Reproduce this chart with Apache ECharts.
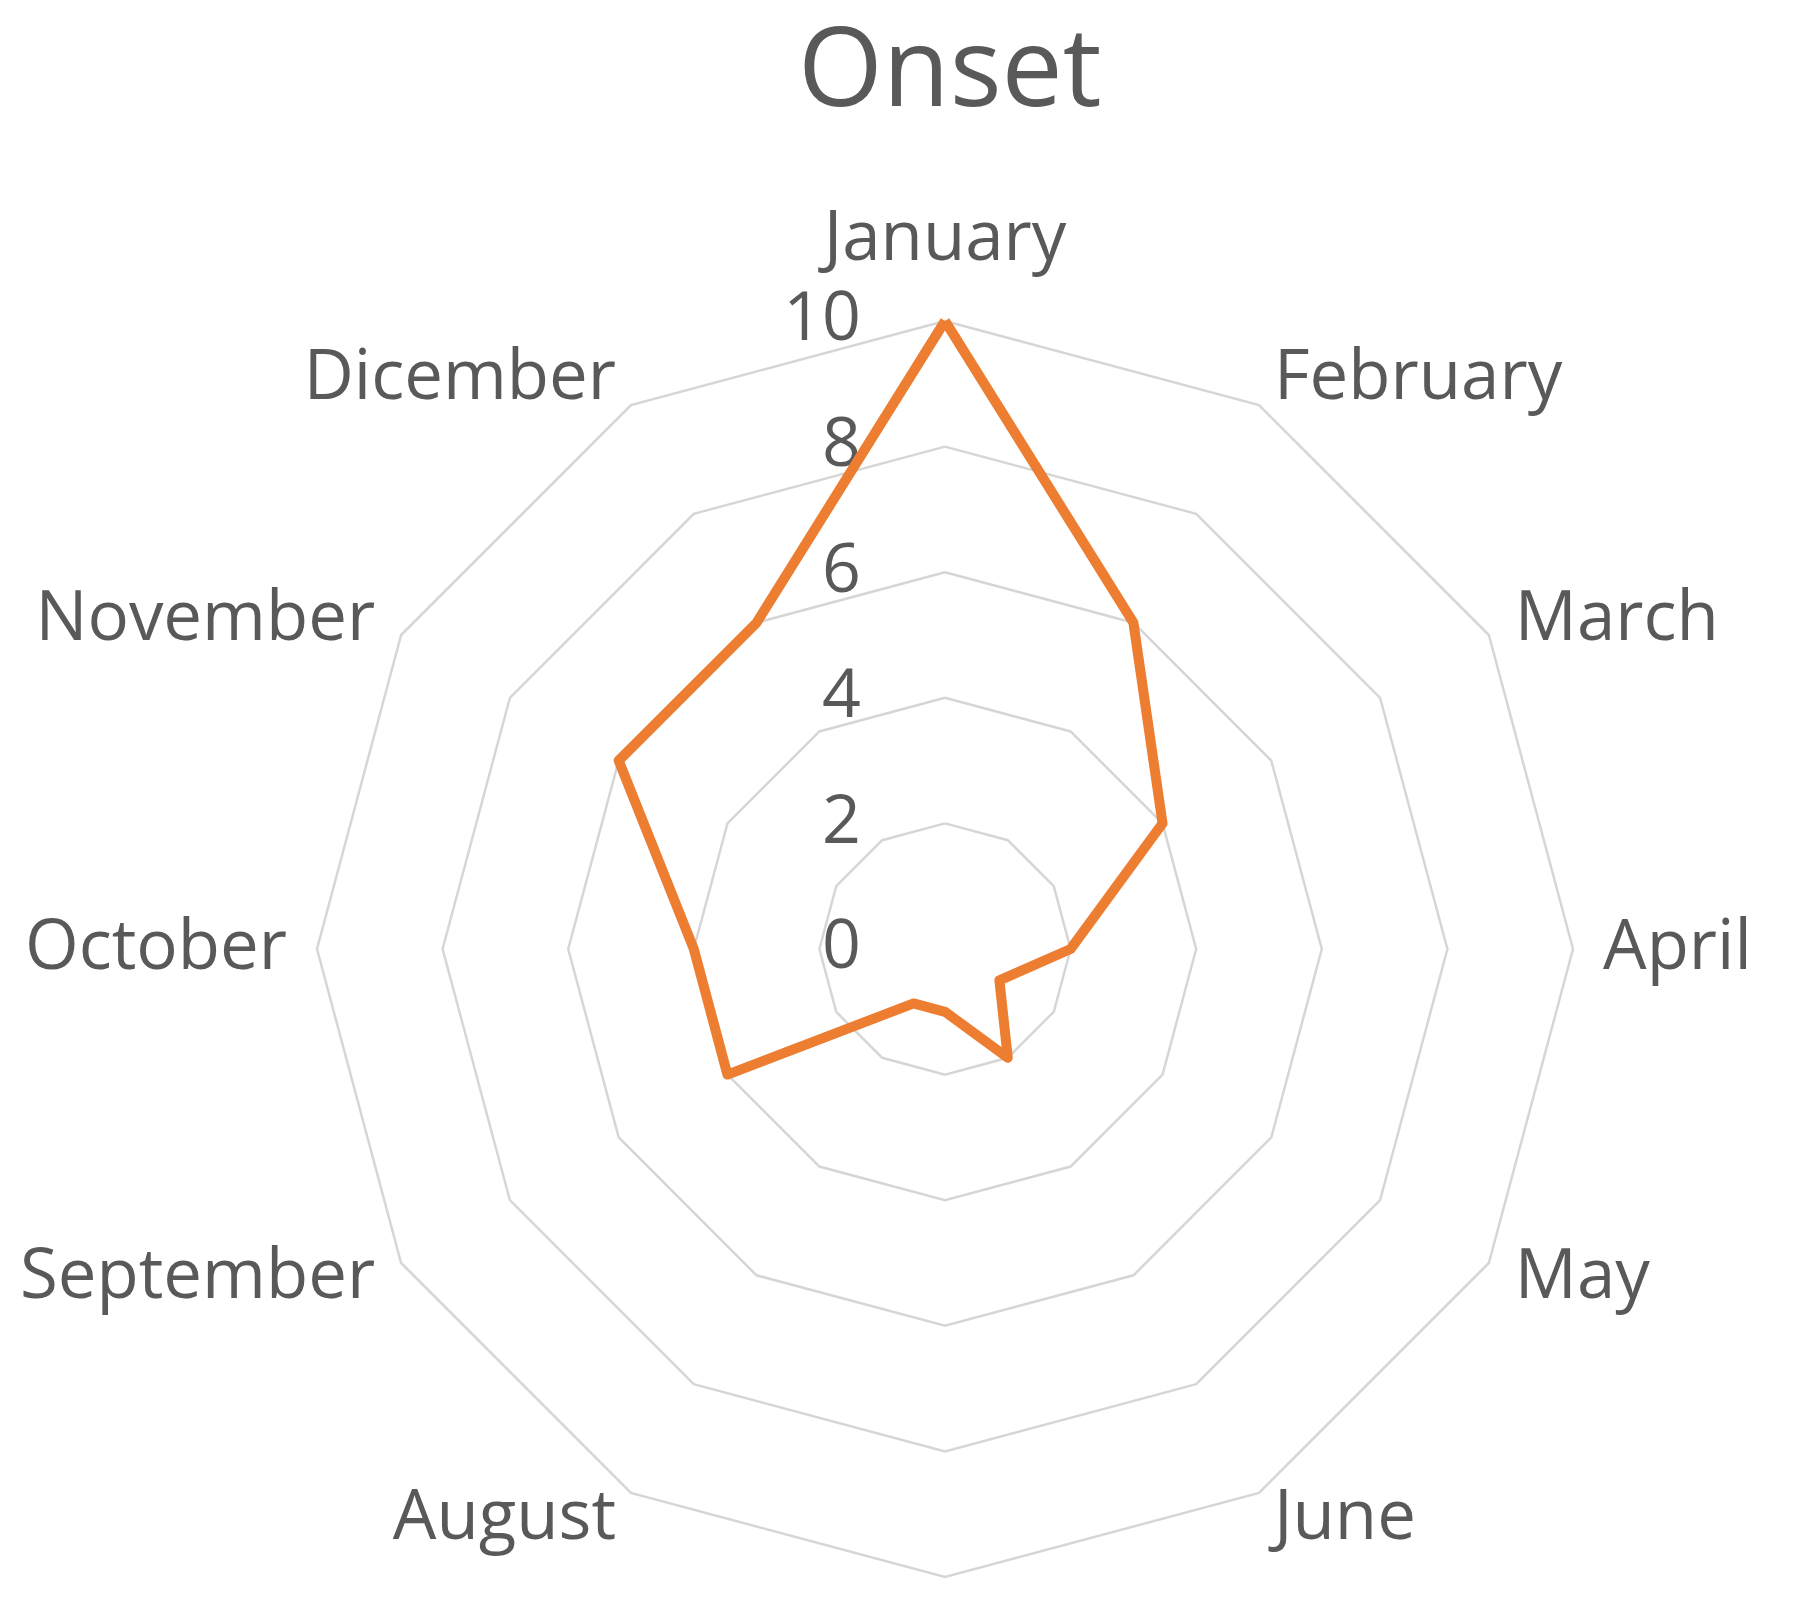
<!DOCTYPE html>
<html>
<head>
<meta charset="utf-8">
<style>
  html, body { margin: 0; padding: 0; background: #fff; }
  #chart { width: 1797px; height: 1597px; }
</style>
<script src="https://cdn.jsdelivr.net/npm/echarts@6/dist/echarts.min.js"></script>
</head>
<body>
<div id="chart"></div>
<script>
// months as printed on the chart (spelling kept)
var months = ['January', 'February', 'March', 'April', 'May', 'June',
              'July', 'August', 'September', 'October', 'November', 'Dicember'];
var onset = [10, 6, 4, 2, 1, 2, 1, 1, 4, 4, 6, 6];
var axisMax = 10;
var axisSplits = 5;

var grey = '#595959';
var chart = echarts.init(document.getElementById('chart'));

// echarts lays radar spokes out counter-clockwise, excel goes clockwise:
// keep January first and reverse the rest
var order = [0];
for (var k = months.length - 1; k > 0; k--) order.push(k);

var indicators = order.map(function (i) {
    var ind = { name: months[i], min: 0, max: axisMax };
    // only the first spoke carries the value labels
    if (i === 0) {
        ind.axisLabel = { show: true };
        ind.nameGap = 46;
    }
    return ind;
});
var values = order.map(function (i) { return onset[i]; });

var option = {
    backgroundColor: '#fff',
    animation: false,
    title: {
        text: 'Onset',
        left: 793,
        top: 15,
        textStyle: {
            fontFamily: 'Open Sans',
            fontSize: 109,
            fontWeight: 'normal',
            color: grey
        }
    },
    radar: {
        center: [945, 949],
        radius: 628,
        startAngle: 90,
        shape: 'polygon',
        splitNumber: axisSplits,
        indicator: indicators,
        nameGap: 30,
        axisName: {
            color: grey,
            fontFamily: 'Open Sans',
            fontSize: 69
        },
        axisLine: { show: false },
        axisTick: { show: false },
        axisLabel: {
            show: false,
            color: grey,
            fontFamily: 'Open Sans',
            fontSize: 68,
            margin: 84
        },
        splitLine: {
            lineStyle: { color: '#d6d6d6', width: 2.5 }
        },
        splitArea: { show: false }
    },
    series: [
        {
            type: 'radar',
            symbol: 'none',
            lineStyle: { color: '#ED7D31', width: 10, join: 'round' },
            itemStyle: { color: '#ED7D31' },
            data: [{ value: values, name: 'Onset' }]
        }
    ]
};
chart.setOption(option);
</script>
</body>
</html>
